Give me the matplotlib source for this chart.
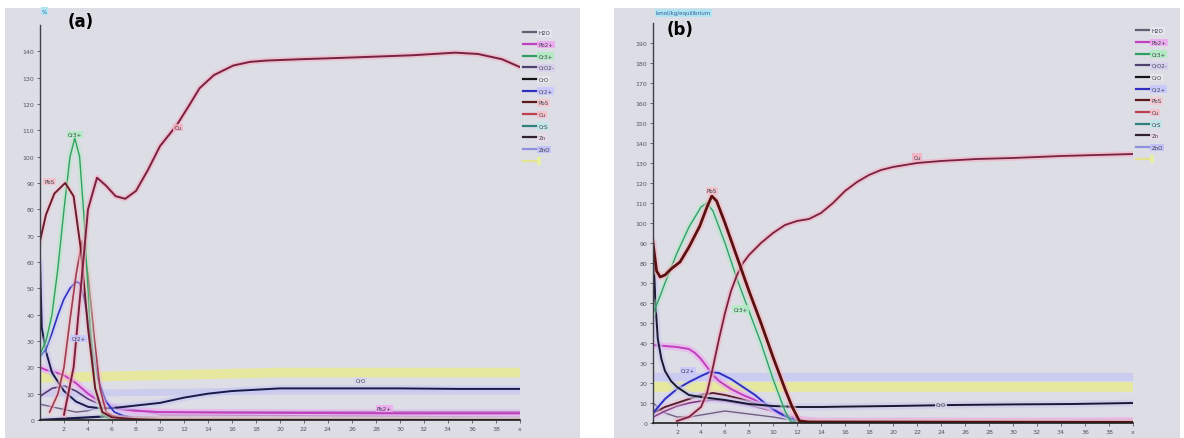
import matplotlib
matplotlib.use("Agg")
import matplotlib.pyplot as plt
import matplotlib.patheffects as pe
from matplotlib.patches import Rectangle
from matplotlib.lines import Line2D

# ---------------- data: panel (a) ----------------
a_cu_x = [2.0, 2.8, 3.4, 4.0, 4.75, 5.5, 6.3, 7.1, 8.0, 9.0, 10.0, 11.4, 12.5, 13.3, 14.5, 16.1, 17.5, 18.9, 21.7, 25, 28, 31, 34.6, 36.5, 38.5, 40]
a_cu_y = [2, 20, 50, 80, 92, 89, 85, 84, 87, 95, 104, 112, 120, 126, 131, 134.6, 136, 136.5, 137, 137.5, 138, 138.5, 139.5, 139, 137, 134]
a_pbs_x = [0, 0.5, 1.2, 2.1, 2.8, 3.4, 4.0, 4.6, 5.2, 6, 8, 10, 40]
a_pbs_y = [68, 78, 86, 90, 85, 65, 35, 12, 3, 1, 0.3, 0, 0]
a_cr3_x = [0, 0.5, 1.0, 1.5, 2.0, 2.5, 2.9, 3.3, 3.7, 4.1, 4.6, 5.2, 6, 40]
a_cr3_y = [25, 30, 40, 58, 80, 100, 107, 100, 75, 40, 12, 2, 0, 0]
a_red_x = [0.8, 1.5, 2.0, 2.5, 3.0, 3.5, 4.0, 4.5, 5.0, 5.5, 6.5, 40]
a_red_y = [3, 10, 20, 38, 55, 68, 55, 32, 12, 3, 0.5, 0]
a_blue_x = [0, 0.5, 1.0, 1.5, 2.0, 2.5, 3.0, 3.3, 3.7, 4.2, 4.8, 5.5, 6.2, 7, 8, 10, 40]
a_blue_y = [24, 27, 33, 40, 46, 50, 52.5, 52, 46, 32, 16, 7, 3, 1.5, 0.8, 0.4, 0.3]
a_blk_x = [0, 0.15, 0.5, 1, 2, 3, 4, 5, 6, 7, 8, 10, 12, 14, 16, 18, 20, 25, 30, 35, 40]
a_blk_y = [60, 35, 26, 18, 11, 7, 5, 4.5, 4.5, 5, 5.5, 6.5, 8.5, 10, 11, 11.5, 12, 12, 12, 11.8, 11.8]
a_mag_x = [0, 0.5, 1, 2, 3, 4, 5, 6, 7, 8, 10, 15, 20, 30, 40]
a_mag_y = [20, 19, 18.5, 17, 14, 10, 7, 5, 4, 3.5, 3, 2.8, 2.7, 2.5, 2.5]
a_pur_x = [0, 1, 2, 3, 4, 5, 6, 8, 10, 15, 20, 30, 40]
a_pur_y = [9, 12, 13, 11, 8, 6, 4.5, 3.5, 3, 3, 3, 3, 3]
a_gray_x = [0, 1, 2, 3, 4, 5, 6, 8, 10, 40]
a_gray_y = [6, 5, 4, 3, 3.5, 5, 5.5, 4, 2, 1]
a_zn_x = [0, 2, 4, 6, 8, 10, 40]
a_zn_y = [0, 0.5, 1, 1.5, 1, 0.8, 0.6]
a_yel_x = [0, 5, 10, 20, 30, 40]
a_yel_y = [16, 16.5, 17, 18, 18, 18]
a_lav_x = [0, 10, 20, 40]
a_lav_y = [10, 10.5, 11, 11]

# ---------------- data: panel (b) ----------------
b_cu_x = [2, 3, 4, 4.5, 5, 5.5, 6, 6.5, 7, 7.5, 8, 9, 10, 11, 12, 13, 14, 15, 16, 17, 18, 19, 20, 22, 24, 27, 30, 34, 37, 40]
b_cu_y = [1, 3, 8, 15, 28, 42, 55, 66, 74, 80, 84, 90, 95, 99, 101, 102, 105, 110, 116, 120.5, 124, 126.5, 128, 130, 131, 132, 132.5, 133.5, 134, 134.5]
b_pbs_x = [0, 0.3, 0.6, 1, 1.5, 2.25, 3, 3.9, 4.5, 4.9, 5.3, 6, 7, 8, 9, 10, 11, 11.6, 12.2, 13, 40]
b_pbs_y = [90, 76, 73, 74, 77, 80.5, 88, 98.5, 108, 113.5, 111, 100, 83, 66, 50, 33, 17, 8, 1, 0.5, 0.3]
b_cr3_x = [0, 0.5, 1, 2, 3, 4, 4.5, 5, 6, 7, 8, 9, 10, 11, 11.5, 40]
b_cr3_y = [55, 62, 70, 85, 98, 108, 110, 106, 90, 72, 56, 40, 22, 6, 0.5, 0.3]
b_blk_x = [0, 0.2, 0.4, 0.7, 1, 1.5, 2, 3, 4, 6, 8, 10, 12, 14, 16, 20, 25, 30, 35, 40]
b_blk_y = [90, 60, 42, 32, 26, 21, 18, 14, 13, 11.5, 9.5, 8.5, 8, 8, 8.2, 8.5, 9, 9.3, 9.5, 10]
b_blue_x = [0, 1, 2, 3, 4, 4.75, 5.5, 6.5, 7.5, 8.5, 9.5, 10.5, 11.5, 12.5, 14, 40]
b_blue_y = [5, 12, 17, 20.5, 23.5, 25.5, 25, 22, 18, 14, 9, 5, 2, 0.5, 0.2, 0.2]
b_mag_x = [0, 1, 2, 3, 3.5, 4, 4.5, 5, 5.5, 6.5, 7.5, 8.5, 9.5, 10.5, 11.5, 12.5, 14, 20, 30, 40]
b_mag_y = [39, 38.5, 38, 37, 35, 32, 28, 24, 21, 17, 14, 11.5, 8.5, 5.5, 3, 1.5, 1, 1, 1, 1.2]
b_mar_x = [0, 1, 2, 3, 4, 5, 6, 7, 8, 9, 10, 11, 12, 13, 40]
b_mar_y = [5, 8, 10, 12, 14, 15, 14, 12.5, 11, 9, 7, 4, 1.5, 0.5, 0.3]
b_pur_x = [0, 1, 2, 3, 4, 5, 6, 8, 10, 12, 14, 40]
b_pur_y = [3, 6, 8.5, 10, 11, 11.5, 11, 9, 6, 2, 0.8, 0.5]
b_gray_x = [0, 1, 2, 3, 4, 5, 6, 8, 10, 12, 40]
b_gray_y = [10, 5, 3, 3, 4, 5, 6, 4.5, 3, 1, 0.5]
b_yel_x = [0, 10, 20, 30, 40]
b_yel_y = [18, 18, 18, 18, 18]
b_lav_x = [0, 10, 20, 30, 40]
b_lav_y = [23, 23, 23, 23, 23]

legend_labels = ["H2O", "Pb2+", "Cr3+", "CrO2-", "CrO", "Cr2+", "PbS", "Cu", "CrS", "Zn", "ZnO", " "]
legend_colors = ["#606070", "#c040c0", "#30a060", "#504070", "#151515", "#3030c0",
                 "#5a1a1a", "#c04050", "#308080", "#302030", "#9090e0", "#e4e490"]
legend_boxes = ["#e8e8ee", "#f0a8f0", "#b0ecc0", "#d8d0f0", "#e8e8ec", "#c8c8ff",
                "#f4c8d0", "#f8c0c8", "#c0e8e8", "#ecdce8", "#c0c0f8", "#e8f0a0"]

y_ticks_a = list(range(0, 150, 10))
y_ticks_b = list(range(0, 200, 10))
x_ticks = list(range(2, 42, 2))
x_tick_labels = [str(v) for v in range(2, 40, 2)] + ["x"]

BG = "#dddde6"
W, H = 1184, 439
fig = plt.figure(figsize=(W / 100, H / 100), dpi=100)
fig.patch.set_facecolor("white")

# panel backgrounds
fig.add_artist(Rectangle((5 / W, 0), 575 / W, 430 / H, transform=fig.transFigure,
                         facecolor=BG, edgecolor="none", zorder=0))
fig.add_artist(Rectangle((614 / W, 0), 566 / W, 430 / H, transform=fig.transFigure,
                         facecolor=BG, edgecolor="none", zorder=0))


def halo(c, w=4.5, a=0.45):
    return [pe.Stroke(linewidth=w, foreground=c, alpha=a), pe.Normal()]


def style_axes(ax, ymax, yticks):
    ax.set_facecolor("none")
    ax.set_xlim(0, 40)
    ax.set_ylim(0, ymax)
    for s in ["top", "right"]:
        ax.spines[s].set_visible(False)
    ax.spines["left"].set_color("#404048")
    ax.spines["bottom"].set_color("#202020")
    ax.spines["left"].set_linewidth(1.0)
    ax.spines["bottom"].set_linewidth(1.2)
    ax.set_yticks(yticks)
    ax.set_yticklabels([str(v) if v else "0" for v in yticks])
    ax.set_xticks(x_ticks)
    ax.set_xticklabels(x_tick_labels)
    ax.tick_params(axis="both", labelsize=4.5, colors="#555560", length=2.5, width=0.6, pad=1.5)


def legend(ax):
    handles = [Line2D([0], [0], color=c, lw=1.6) for c in legend_colors]
    leg = ax.legend(handles, legend_labels, loc="upper left", bbox_to_anchor=(1.0, 0.995),
                    frameon=False, fontsize=4, labelspacing=1.2, handlelength=2.6,
                    handletextpad=0.1, borderaxespad=0.2)
    for t, bc in zip(leg.get_texts(), legend_boxes):
        t.set_color("#404050")
        t.set_bbox(dict(facecolor=bc, edgecolor="none", pad=1.0, alpha=0.9))


def tag(ax, x, y, s, bc):
    ax.text(x, y, s, fontsize=4, color="#404050", ha="center", va="center",
            bbox=dict(facecolor=bc, edgecolor="none", pad=0.8, alpha=0.85))


# ---------------- panel (a) ----------------
axa = fig.add_axes([40 / W, 18 / H, 480 / W, 395 / H])
style_axes(axa, 150, y_ticks_a)
axa.plot(a_yel_x, a_yel_y, color="#e8ea98", lw=7, alpha=0.9, solid_capstyle="butt")
axa.plot(a_lav_x, a_lav_y, color="#c8c8f0", lw=5, alpha=0.8, solid_capstyle="butt")
axa.plot(a_zn_x, a_zn_y, color="#1a1a4a", lw=1.6, path_effects=halo("#c0c0e8"))
axa.plot(a_gray_x, a_gray_y, color="#706080", lw=1.0, path_effects=halo("#d8d0e8"))
axa.plot(a_pur_x, a_pur_y, color="#503a70", lw=1.2, path_effects=halo("#d8c8f0"))
axa.plot(a_mag_x, a_mag_y, color="#c040c0", lw=1.4, path_effects=halo("#f0a8f0", 5, 0.6))
axa.plot(a_blk_x, a_blk_y, color="#1a1a48", lw=1.4, path_effects=halo("#c8c8f4", 5, 0.6))
axa.plot(a_blue_x, a_blue_y, color="#3030c0", lw=1.2, path_effects=halo("#c8c8ff"))
axa.plot(a_red_x, a_red_y, color="#a03a50", lw=1.2, path_effects=halo("#f4c0c8"))
axa.plot(a_cr3_x, a_cr3_y, color="#30a060", lw=1.0, path_effects=halo("#b0ecc0"))
axa.plot(a_pbs_x, a_pbs_y, color="#6a1a2a", lw=1.4, path_effects=halo("#f4c0c8"))
axa.plot(a_cu_x, a_cu_y, color="#7a2040", lw=1.4, path_effects=halo("#f4b0c0", 4, 0.6))
tag(axa, 11.5, 111, "Cu", "#f4b0c0")
tag(axa, 2.9, 108.5, "Cr3+", "#b0ecc0")
tag(axa, 0.8, 90.5, "PbS", "#f4c0c8")
tag(axa, 3.2, 31, "Cr2+", "#c8c8ff")
tag(axa, 26.7, 15, "CrO", "#d8d8ec")
tag(axa, 28.7, 4.5, "Pb2+", "#f0a8f0")
legend(axa)

# ---------------- panel (b) ----------------
axb = fig.add_axes([653 / W, 15 / H, 480 / W, 400 / H])
style_axes(axb, 200, y_ticks_b)
axb.plot(b_lav_x, b_lav_y, color="#c8c8f4", lw=6, alpha=0.8, solid_capstyle="butt")
axb.plot(b_yel_x, b_yel_y, color="#e8ea98", lw=7, alpha=0.9, solid_capstyle="butt")
axb.plot(b_gray_x, b_gray_y, color="#706080", lw=1.0, path_effects=halo("#d8d0e8"))
axb.plot(b_pur_x, b_pur_y, color="#803a80", lw=1.2, path_effects=halo("#e0c0f0"))
axb.plot(b_mar_x, b_mar_y, color="#5a2030", lw=1.4, path_effects=halo("#f0c0d0"))
axb.plot(b_mag_x, b_mag_y, color="#c040c0", lw=1.4, path_effects=halo("#f0a8f0", 5, 0.6))
axb.plot(b_blue_x, b_blue_y, color="#3030c0", lw=1.4, path_effects=halo("#c8c8ff"))
axb.plot(b_blk_x, b_blk_y, color="#181830", lw=1.4, path_effects=halo("#c8c8f0", 5, 0.6))
axb.plot(b_cr3_x, b_cr3_y, color="#30a070", lw=1.0, path_effects=halo("#b0ecc0"))
axb.plot(b_cu_x, b_cu_y, color="#7a2040", lw=1.3, path_effects=halo("#f4b0c0", 4, 0.6))
axb.plot(b_pbs_x, b_pbs_y, color="#5a1010", lw=2.0, path_effects=halo("#f4b8c0", 5, 0.6))
tag(axb, 4.9, 116, "PbS", "#f4c0c8")
tag(axb, 7.3, 57, "Cr3+", "#b0ecc0")
tag(axb, 2.9, 26, "Cr2+", "#c8c8ff")
tag(axb, 22, 133, "Cu", "#f4b0c0")
tag(axb, 24, 9, "CrO", "#d8d8ec")
legend(axb)

# panel letters and unit tags
fig.text(68 / W, 1 - 22 / H, "(a)", fontsize=12, fontweight="bold", ha="left", va="center")
fig.text(667 / W, 1 - 30 / H, "(b)", fontsize=12, fontweight="bold", ha="left", va="center")
fig.text(42 / W, 1 - 12 / H, "%", fontsize=4, color="#3060a0", ha="left", va="center",
         bbox=dict(facecolor="#b0e4f0", edgecolor="none", pad=0.8))
fig.text(656 / W, 1 - 14 / H, "kmol/kg/equilibrium", fontsize=4, color="#3060a0", ha="left",
         va="center", bbox=dict(facecolor="#b0e4f0", edgecolor="none", pad=0.8))

fig.savefig("out.png", dpi=100, facecolor="white")
